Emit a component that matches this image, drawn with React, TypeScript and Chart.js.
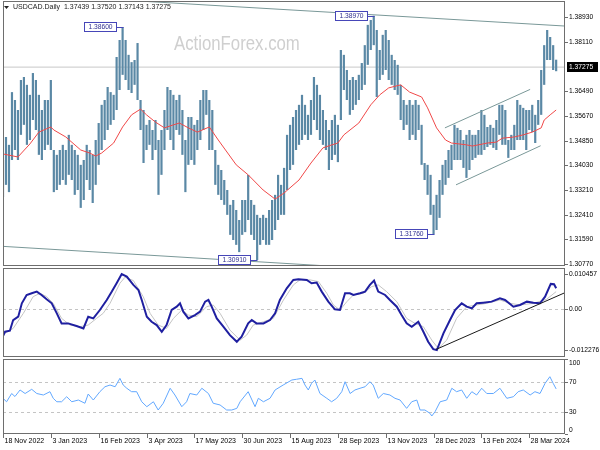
import React, { useEffect, useRef } from 'react';
import { Chart, registerables } from 'chart.js';
Chart.register(...registerables);

const FONT = '"Liberation Sans", Arial, sans-serif';

// ---------------- data ----------------
const symbolTitle = 'USDCAD.Daily  1.37439 1.37520 1.37143 1.37275';
const lastClose = 1.37275;
const watermark = 'ActionForex.com';
const macdTitle = 'MACD(12,26,9) 0.006233 0.005208';
const rsiTitle = 'RSI(14) 60.1088';

const dateTickIdx = [0, 16, 32, 48, 64, 80, 96, 112, 128, 144, 160, 176];
const dateLabels = ['18 Nov 2022', '3 Jan 2023', '16 Feb 2023', '3 Apr 2023', '17 May 2023', '30 Jun 2023',
  '15 Aug 2023', '28 Sep 2023', '13 Nov 2023', '28 Dec 2023', '13 Feb 2024', '28 Mar 2024'];

const highs = [
  1.3421, 1.3497, 1.3471, 1.3645, 1.3619, 1.3586, 1.3685, 1.3695, 1.3669, 1.3636, 1.3708, 1.3685, 1.3636, 1.3586, 1.3619, 1.3619, 1.3685,
  1.3454, 1.3438, 1.3454, 1.3471, 1.3454, 1.3504, 1.3471, 1.3454, 1.3438, 1.3405, 1.3421, 1.3471, 1.3454, 1.3438, 1.3487, 1.3543, 1.3603,
  1.3619, 1.3662, 1.3645, 1.3636, 1.3761, 1.3817, 1.3860, 1.3817, 1.3768, 1.3744, 1.3751, 1.3807, 1.3619, 1.3586, 1.3537, 1.3553,
  1.3520, 1.3553, 1.3487, 1.3520, 1.3586, 1.3662, 1.3652, 1.3636, 1.3619, 1.3636, 1.3586, 1.3487, 1.3563, 1.3563, 1.3537, 1.3553,
  1.3619, 1.3652, 1.3652, 1.3619, 1.3586, 1.3454, 1.3405, 1.3388, 1.3355, 1.3322, 1.3273, 1.3289, 1.3256, 1.3223, 1.3289, 1.3289,
  1.3372, 1.3289, 1.3273, 1.3240, 1.3230, 1.3240, 1.3230, 1.3256, 1.3289, 1.3306, 1.3372, 1.3339, 1.3395, 1.3504, 1.3537, 1.3563,
  1.3586, 1.3603, 1.3636, 1.3603, 1.3570, 1.3619, 1.3695, 1.3669, 1.3636, 1.3586, 1.3553, 1.3520, 1.3553, 1.3570, 1.3537, 1.3784,
  1.3768, 1.3718, 1.3685, 1.3695, 1.3685, 1.3702, 1.3741, 1.3800, 1.3867, 1.3883, 1.3897, 1.3850, 1.3784, 1.3834, 1.3850, 1.3817,
  1.3768, 1.3751, 1.3735, 1.3669, 1.3619, 1.3603, 1.3619, 1.3603, 1.3619, 1.3603, 1.3537, 1.3411, 1.3405, 1.3372, 1.3273, 1.3306,
  1.3355, 1.3405, 1.3421, 1.3454, 1.3471, 1.3537, 1.3527, 1.3520, 1.3487, 1.3504, 1.3520, 1.3504, 1.3504, 1.3520, 1.3586, 1.3570,
  1.3530, 1.3537, 1.3527, 1.3553, 1.3603, 1.3603, 1.3586, 1.3487, 1.3504, 1.3537, 1.3619, 1.3603, 1.3593, 1.3586, 1.3586, 1.3603,
  1.3570, 1.3619, 1.3718, 1.3800, 1.3850, 1.3827, 1.3800, 1.3752,
];
const lows = [
  1.3299, 1.3339, 1.3315, 1.3421, 1.3454, 1.3421, 1.3504, 1.3537, 1.3471, 1.3487, 1.3553, 1.3520, 1.3438, 1.3421, 1.3454, 1.3471, 1.3454,
  1.3315, 1.3322, 1.3339, 1.3355, 1.3339, 1.3372, 1.3355, 1.3306, 1.3322, 1.3263, 1.3289, 1.3355, 1.3322, 1.3279, 1.3339, 1.3405, 1.3454,
  1.3487, 1.3520, 1.3537, 1.3553, 1.3586, 1.3652, 1.3702, 1.3685, 1.3652, 1.3642, 1.3669, 1.3619, 1.3520, 1.3411, 1.3454, 1.3471,
  1.3421, 1.3454, 1.3306, 1.3372, 1.3454, 1.3520, 1.3487, 1.3454, 1.3520, 1.3504, 1.3438, 1.3315, 1.3405, 1.3421, 1.3405, 1.3454,
  1.3487, 1.3520, 1.3570, 1.3454, 1.3454, 1.3339, 1.3306, 1.3289, 1.3273, 1.3240, 1.3174, 1.3157, 1.3141, 1.3117, 1.3174, 1.3183,
  1.3223, 1.3174, 1.3157, 1.3091, 1.3141, 1.3157, 1.3141, 1.3141, 1.3157, 1.3190, 1.3223, 1.3240, 1.3240, 1.3322, 1.3388, 1.3405,
  1.3454, 1.3471, 1.3487, 1.3504, 1.3487, 1.3504, 1.3553, 1.3520, 1.3487, 1.3471, 1.3454, 1.3388, 1.3421, 1.3438, 1.3414, 1.3553,
  1.3652, 1.3619, 1.3570, 1.3586, 1.3603, 1.3619, 1.3652, 1.3669, 1.3735, 1.3784, 1.3800, 1.3629, 1.3685, 1.3702, 1.3718, 1.3685,
  1.3669, 1.3652, 1.3636, 1.3553, 1.3520, 1.3537, 1.3487, 1.3504, 1.3487, 1.3520, 1.3405, 1.3355, 1.3306, 1.3240, 1.3176, 1.3190,
  1.3230, 1.3306, 1.3339, 1.3362, 1.3388, 1.3421, 1.3421, 1.3421, 1.3395, 1.3362, 1.3388, 1.3421, 1.3428, 1.3438, 1.3438, 1.3454,
  1.3464, 1.3471, 1.3461, 1.3454, 1.3504, 1.3471, 1.3471, 1.3428, 1.3454, 1.3454, 1.3487, 1.3487, 1.3487, 1.3454, 1.3520, 1.3513,
  1.3477, 1.3537, 1.3570, 1.3669, 1.3751, 1.3751, 1.3718, 1.3714,
];

const maIdx = [0, 5, 9, 12, 16, 17, 21, 26, 29, 31, 33, 37, 40, 43, 46, 48, 51, 54, 57, 59, 62, 65, 69, 72, 78, 82, 87, 91, 94, 99,
  103, 107, 110, 112, 114, 119, 123, 126, 129, 133, 136, 140, 142, 145, 148, 150, 155, 157, 162, 165, 167, 171, 174, 177, 180, 181, 183, 185];
const maVal = [1.3441, 1.3431, 1.3474, 1.3513, 1.3530, 1.3520, 1.3497, 1.3454, 1.3444, 1.3434, 1.3444, 1.3477, 1.3530, 1.3570, 1.3589,
  1.3570, 1.3546, 1.3527, 1.3537, 1.3543, 1.3527, 1.3513, 1.3530, 1.3487, 1.3405, 1.3372, 1.3322, 1.3292, 1.3312, 1.3355, 1.3411, 1.3461,
  1.3471, 1.3477, 1.3504, 1.3543, 1.3603, 1.3636, 1.3659, 1.3669, 1.3645, 1.3629, 1.3593, 1.3527, 1.3487, 1.3477, 1.3471, 1.3467, 1.3477,
  1.3480, 1.3493, 1.3497, 1.3504, 1.3513, 1.3527, 1.3553, 1.3570, 1.3586];

const priceTicks = [1.3893, 1.3811, 1.3649, 1.3567, 1.3485, 1.3403, 1.3321, 1.3241, 1.3159, 1.3077];
const extremeIdx = [40, 124, 85, 144];
const extremeVal = [1.3860, 1.3897, 1.3091, 1.3176];

const wedgeTopIdx = [0, 188];
const wedgeTopVal = [1.3972, 1.3863];
const wedgeBotIdx = [0, 188];
const wedgeBotVal = [1.3136, 1.3024];
const chanUpIdx = [147.8, 176.3];
const chanUpVal = [1.3527, 1.3654];
const chanLoIdx = [151.5, 179.8];
const chanLoVal = [1.3339, 1.3468];

const macdIdx = [0, 0.7, 2.3, 3.4, 5.1, 6.3, 7.9, 9.6, 11.3, 12.9, 14.6, 16.3, 18, 19.6, 21.8, 24.6, 26.9, 28.5, 30.2, 32.4, 34.7, 36.4,
  38, 39.7, 41.4, 43.6, 45.3, 46.4, 48.1, 49.7, 51.4, 53.1, 54.7, 56.4, 58.1, 59.2, 60.3, 62, 64.2, 65.9, 67.6, 68.7, 69.8, 71.5, 73.7,
  75.9, 78.2, 79.8, 82, 83.2, 84.8, 87.1, 89.3, 91, 92.6, 94.9, 97.1, 98.8, 101.6, 103.2, 104.9, 106.6, 108.8, 111, 112.7, 114.4, 116,
  117.2, 119.4, 121.1, 122.7, 124.1, 125.5, 127.8, 129.4, 131.7, 133.3, 135, 136.7, 138.9, 140.6, 142.2, 143.9, 145.1, 147.3, 149.5,
  151.2, 153.4, 155.1, 156.8, 158.4, 160.6, 163.4, 166.2, 167.9, 170.7, 172.9, 175.2, 177.4, 179.6, 181.3, 183.2, 184.3, 185];
const macdVal = [-0.0081, -0.0068, -0.0065, -0.0033, -0.0023, 0.0017, 0.0042, 0.0047, 0.0052, 0.0042, 0.0029, 0.0017, -0.0013, -0.0043,
  -0.0043, -0.0051, -0.0058, -0.0023, -0.0028, -0.0003, 0.0027, 0.0052, 0.0077, 0.010457, 0.0097, 0.0072, 0.0057, 0.0027, -0.0023,
  -0.0038, -0.0048, -0.0068, -0.0048, -0.0003, 0.0007, 0.0017, -0.0008, -0.0028, -0.0018, -0.0008, 0.0022, 0.0027, 0.0007, -0.0028,
  -0.0053, -0.0078, -0.0098, -0.0083, -0.0043, -0.0033, -0.0043, -0.0043, -0.0033, -0.0013, 0.0027, 0.0062, 0.0087, 0.0089, 0.0087,
  0.0077, 0.0079, 0.0052, 0.0022, -0.0001, -0.0003, 0.0047, 0.0047, 0.0042, 0.0047, 0.0052, 0.0072, 0.0085, 0.0052, 0.0042, 0.0027,
  0.0007, -0.0018, -0.0043, -0.0053, -0.0038, -0.0068, -0.0098, -0.0120, -0.012276, -0.0073, -0.0033, -0.0003, 0.0017, 0.0007, 0.0002,
  0.0017, 0.0019, 0.0022, 0.0032, 0.0027, 0.0007, 0.0012, 0.0022, 0.0019, 0.0017, 0.0037, 0.0075, 0.0074, 0.0062];
const sigIdx = [0, 3.4, 6.8, 10.1, 12.4, 14.6, 16.8, 19.6, 22.4, 25.8, 28.5, 31.3, 33.5, 35.8, 39.1, 40.8, 43.6, 46.9, 49.2, 51.9, 54.7,
  57, 59.8, 62, 64.8, 68.1, 70.3, 72.6, 75.9, 79.3, 81.5, 83.7, 87.1, 90.4, 93.8, 97.1, 99.3, 102.7, 105.5, 108.3, 110.5, 112.7, 115,
  117.2, 120.5, 123.3, 125.5, 128.3, 131.7, 135, 137.8, 140.6, 143.4, 145.6, 148.4, 151.7, 155.1, 158.4, 161.8, 166.2, 169.6, 172.9,
  177.4, 181.8, 185];
const sigVal = [-0.0075, -0.0058, -0.0013, 0.0037, 0.0047, 0.0037, 0.0017, -0.0028, -0.0048, -0.0053, -0.0048, -0.0028, -0.0013, 0.0017,
  0.0077, 0.0095, 0.0085, 0.0037, -0.0013, -0.0048, -0.0058, -0.0028, -0.0003, -0.0018, -0.0023, 0.0007, 0.0012, -0.0013, -0.0063,
  -0.0093, -0.0078, -0.0048, -0.0038, -0.0028, 0.0027, 0.0072, 0.0087, 0.0087, 0.0082, 0.0047, 0.0012, -0.0003, 0.0022, 0.0042, 0.0047,
  0.0067, 0.0072, 0.0052, 0.0022, -0.0028, -0.0043, -0.0053, -0.0093, -0.0118, -0.0093, -0.0028, 0.0007, 0.0012, 0.0017, 0.0027,
  0.0017, 0.0012, 0.0017, 0.0029, 0.0052];
const macdTrendIdx = [144.8, 188];
const macdTrendVal = [-0.0121, 0.0049];
const macdTicks = [0.010457, 0, -0.012276];
const macdTickLabels = ['0.010457', '0.00', '-0.012276'];

const rsiIdx = [0, 1.2, 2.9, 4, 5.7, 7.4, 9.6, 11.3, 13.5, 15.7, 16.8, 18, 19.6, 21.3, 23, 25.2, 27.4, 28.5, 30.2, 32.4, 34.1, 35.8,
  37.5, 39.1, 40.2, 41.4, 43, 44.7, 46.4, 48.1, 50.3, 51.9, 53.6, 55.9, 57.5, 59.8, 61.4, 62.5, 64.8, 66.5, 68.7, 70.3, 72.6, 74.8,
  76.5, 78.2, 79.3, 82, 84.3, 85.4, 87.1, 89.3, 91, 93.7, 96.6, 98.2, 100, 101, 102.1, 103.2, 104.3, 106, 108.3, 109.9, 111.6, 113.3,
  114.4, 116.1, 117.7, 119.4, 121.1, 122.7, 123.8, 125.5, 127.2, 129.4, 131.1, 132.8, 135, 136.7, 138.4, 139.5, 141.1, 142.8, 143.4,
  144.5, 146.2, 148.4, 150.1, 151.7, 153.4, 155.1, 156.8, 158.4, 160.1, 161.8, 164, 166.2, 168.5, 170.7, 172.3, 174, 176.3, 177.9,
  179.6, 181.3, 182.9, 184, 185];
const rsiVal = [47.6, 43, 54, 50, 58.7, 54, 59.6, 54, 52, 56.4, 47.6, 43, 43, 49.7, 43, 45.3, 41, 53.3, 45.3, 56.4, 63, 65.3, 63, 74.2,
  65.3, 61, 56.4, 56.4, 43, 36.4, 43, 32, 41, 61, 52, 36.4, 43, 54, 52, 61, 54, 41, 38.7, 32, 32, 34.2, 43, 56.4, 36.4, 47.6, 43,
  47.6, 58.7, 65.3, 72, 73, 74.2, 65.3, 58.7, 67.6, 72, 54, 47.6, 43, 47.6, 56.4, 69.7, 54, 58.7, 61, 63, 69.7, 65.3, 47.6, 54, 52,
  47.6, 45.3, 34.2, 43, 45.3, 32, 32, 27.6, 24, 29.7, 43, 45.3, 61, 56.4, 58.7, 47.6, 56.4, 52, 61, 54, 54, 61, 47.6, 49.7, 56.4,
  58.7, 52, 56.4, 54, 67.6, 76.4, 67.6, 60.1088];
const rsiTicks = [100, 70, 30, 0];
const rsiGuides = [70, 30];

// ---------------- helpers ----------------
const X_MIN = 0;
const X_MAX = 187.96;
const LABEL_FONT = `6.7px ${FONT}`;

const pts = (xs: number[], ys: number[]) => xs.map((x, i) => ({ x, y: ys[i] }));
const lineDs = (data: any[], color: string, width: number, order: number) => ({
  type: 'line', data, borderColor: color, borderWidth: width, pointRadius: 0, fill: false, tension: 0, order,
});
const xScale = () => ({ type: 'linear', display: false, min: X_MIN, max: X_MAX, offset: false });
const baseOptions = (top: number, bottom: number) => ({
  animation: false, responsive: false, maintainAspectRatio: false, events: [],
  layout: { padding: { left: 3, right: 35, top, bottom } },
  plugins: { legend: { display: false }, tooltip: { enabled: false } },
});

function drawFrame(chart: any) {
  const { ctx, chartArea: a } = chart;
  ctx.save();
  ctx.strokeStyle = '#6e6e6e';
  ctx.lineWidth = 1;
  ctx.strokeRect(a.left + 0.5, a.top + 0.5, a.right - a.left - 1, a.bottom - a.top - 1);
  ctx.restore();
}

function drawRightLabels(chart: any, values: number[], texts: string[], dys?: number[]) {
  const { ctx, chartArea: a, scales } = chart;
  ctx.save();
  ctx.font = LABEL_FONT;
  ctx.fillStyle = '#000';
  ctx.strokeStyle = '#6e6e6e';
  ctx.textAlign = 'left';
  ctx.textBaseline = 'middle';
  values.forEach((v, k) => {
    const py = Math.round(scales.y.getPixelForValue(v)) + 0.5;
    ctx.beginPath();
    ctx.moveTo(a.right, py);
    ctx.lineTo(a.right + 3, py);
    ctx.stroke();
    ctx.fillText(texts[k], a.right + 4, py + (dys ? dys[k] : 0));
  });
  ctx.restore();
}

function drawTopLabel(chart: any, text: string, y: number) {
  const { ctx, chartArea: a } = chart;
  ctx.save();
  ctx.font = `7px ${FONT}`;
  ctx.fillStyle = '#222';
  ctx.textAlign = 'left';
  ctx.textBaseline = 'middle';
  ctx.fillText(text, a.left + 3, y);
  ctx.restore();
}

function drawGuides(chart: any, values: number[]) {
  const { ctx, chartArea: a, scales } = chart;
  ctx.save();
  ctx.strokeStyle = '#c4c4c4';
  ctx.lineWidth = 1;
  ctx.setLineDash([3, 3]);
  values.forEach((v) => {
    const py = Math.round(scales.y.getPixelForValue(v)) + 0.5;
    ctx.beginPath();
    ctx.moveTo(a.left, py);
    ctx.lineTo(a.right, py);
    ctx.stroke();
  });
  ctx.restore();
}

// ---------------- plugins ----------------
const mainDeco = {
  id: 'mainDeco',
  beforeDatasetsDraw(chart: any) {
    const { ctx } = chart;
    ctx.save();
    ctx.fillStyle = '#cfcfcf';
    ctx.font = `19.5px ${FONT}`;
    ctx.textBaseline = 'alphabetic';
    ctx.translate(174, 49.5);
    ctx.scale(0.86, 1);
    ctx.fillText(watermark, 0, 0);
    ctx.restore();
  },
  afterDraw(chart: any) {
    const { ctx, chartArea: a, scales } = chart;
    drawFrame(chart);
    ctx.save();
    ctx.font = LABEL_FONT;
    ctx.textAlign = 'center';
    ctx.textBaseline = 'middle';
    extremeIdx.forEach((idx, k) => {
      const bx = Math.round(scales.x.getPixelForValue(idx));
      const by = Math.round(scales.y.getPixelForValue(extremeVal[k]));
      const w = 32;
      const right = bx - 7;
      const left = right - w;
      ctx.fillStyle = '#ffffff';
      ctx.fillRect(left, by - 5, w, 10);
      ctx.strokeStyle = '#4646b8';
      ctx.lineWidth = 1;
      ctx.strokeRect(left + 0.5, by - 4.5, w, 9);
      ctx.beginPath();
      ctx.moveTo(right + 0.5, by + 0.5);
      ctx.lineTo(bx + 0.5, by + 0.5);
      ctx.stroke();
      ctx.fillStyle = '#303090';
      ctx.fillText(extremeVal[k].toFixed(5), left + w / 2 + 0.5, by + 0.5);
    });
    ctx.restore();
    drawRightLabels(chart, priceTicks, priceTicks.map((v) => v.toFixed(5)));
    ctx.save();
    const cy = Math.round(scales.y.getPixelForValue(lastClose));
    ctx.fillStyle = '#000';
    ctx.fillRect(a.right + 2, cy - 5, 31, 10);
    ctx.fillStyle = '#fff';
    ctx.font = LABEL_FONT;
    ctx.textBaseline = 'middle';
    ctx.textAlign = 'left';
    ctx.fillText(lastClose.toFixed(5), a.right + 4, cy + 0.5);
    ctx.fillStyle = '#222';
    ctx.beginPath();
    ctx.moveTo(a.left + 1, 6);
    ctx.lineTo(a.left + 6, 6);
    ctx.lineTo(a.left + 3.5, 9);
    ctx.closePath();
    ctx.fill();
    ctx.font = `7px ${FONT}`;
    ctx.fillText(symbolTitle, a.left + 10, 7.5);
    ctx.restore();
  },
};

const macdDeco = {
  id: 'macdDeco',
  beforeDatasetsDraw(chart: any) {
    drawGuides(chart, [0]);
  },
  afterDraw(chart: any) {
    drawFrame(chart);
    drawTopLabel(chart, macdTitle, 275);
    drawRightLabels(chart, macdTicks, macdTickLabels);
  },
};

const rsiDeco = {
  id: 'rsiDeco',
  beforeDatasetsDraw(chart: any) {
    drawGuides(chart, rsiGuides);
  },
  afterDraw(chart: any) {
    const { ctx, chartArea: a, scales } = chart;
    drawFrame(chart);
    drawTopLabel(chart, rsiTitle, 364);
    drawRightLabels(chart, rsiTicks, rsiTicks.map(String), [4, 0, 0, -4]);
    ctx.save();
    ctx.strokeStyle = '#6e6e6e';
    ctx.fillStyle = '#000';
    ctx.font = `7px ${FONT}`;
    ctx.textAlign = 'left';
    ctx.textBaseline = 'middle';
    dateTickIdx.forEach((idx, k) => {
      const px = Math.round(scales.x.getPixelForValue(idx)) + 0.5;
      ctx.beginPath();
      ctx.moveTo(px, a.bottom);
      ctx.lineTo(px, a.bottom + 4);
      ctx.stroke();
      ctx.fillText(dateLabels[k], px + 1, a.bottom + 7.5);
    });
    ctx.restore();
  },
};

// ---------------- configs ----------------
function buildMain(): any {
  return {
    type: 'bar',
    data: {
      datasets: [
        lineDs(pts([X_MIN, X_MAX], [lastClose, lastClose]), '#c8c8c8', 1, 10),
        {
          type: 'bar',
          data: highs.map((h, i) => ({ x: i, y: [lows[i], h] })),
          backgroundColor: '#5a88a5',
          barThickness: 2.2,
          inflateAmount: 0,
          order: 5,
        },
        lineDs(pts(maIdx, maVal), '#f04848', 1, 1),
        lineDs(pts(wedgeTopIdx, wedgeTopVal), '#7a9898', 1, 2),
        lineDs(pts(wedgeBotIdx, wedgeBotVal), '#7a9898', 1, 2),
        lineDs(pts(chanUpIdx, chanUpVal), '#7a9898', 1, 2),
        lineDs(pts(chanLoIdx, chanLoVal), '#7a9898', 1, 2),
      ],
    },
    options: {
      ...baseOptions(1, 1),
      scales: { x: xScale(), y: { display: false, min: 1.30712, max: 1.39457 } },
    },
    plugins: [mainDeco],
  };
}

function buildMacd(): any {
  return {
    type: 'line',
    data: {
      datasets: [
        lineDs(pts(sigIdx, sigVal), '#c4c4c4', 1, 3),
        lineDs(pts(macdIdx, macdVal), '#1f1fa0', 2, 2),
        lineDs(pts(macdTrendIdx, macdTrendVal), '#1a1a1a', 1, 1),
      ],
    },
    options: {
      ...baseOptions(1, 1),
      scales: { x: xScale(), y: { display: false, min: -0.01435, max: 0.01226 } },
    },
    plugins: [macdDeco],
  };
}

function buildRsi(): any {
  return {
    type: 'line',
    data: { datasets: [lineDs(pts(rsiIdx, rsiVal), '#62a8ff', 1, 1)] },
    options: {
      ...baseOptions(1, 16),
      scales: { x: xScale(), y: { display: false, min: 0, max: 100 } },
    },
    plugins: [rsiDeco],
  };
}

// ---------------- components ----------------
function Panel({ top, height, build }: { top: number; height: number; build: () => any }) {
  const ref = useRef<HTMLCanvasElement>(null);
  useEffect(() => {
    const chart = new Chart(ref.current as HTMLCanvasElement, build());
    return () => chart.destroy();
  }, []);
  return (
    <canvas
      ref={ref}
      width={600}
      height={height}
      style={{ position: 'absolute', left: 0, top, width: 600, height, display: 'block' }}
    />
  );
}

export default function App() {
  return (
    <div style={{ position: 'fixed', left: 0, top: 0, width: 600, height: 450, background: '#fff', overflow: 'hidden' }}>
      <Panel top={0} height={267} build={buildMain} />
      <Panel top={267} height={91} build={buildMacd} />
      <Panel top={358} height={92} build={buildRsi} />
    </div>
  );
}
